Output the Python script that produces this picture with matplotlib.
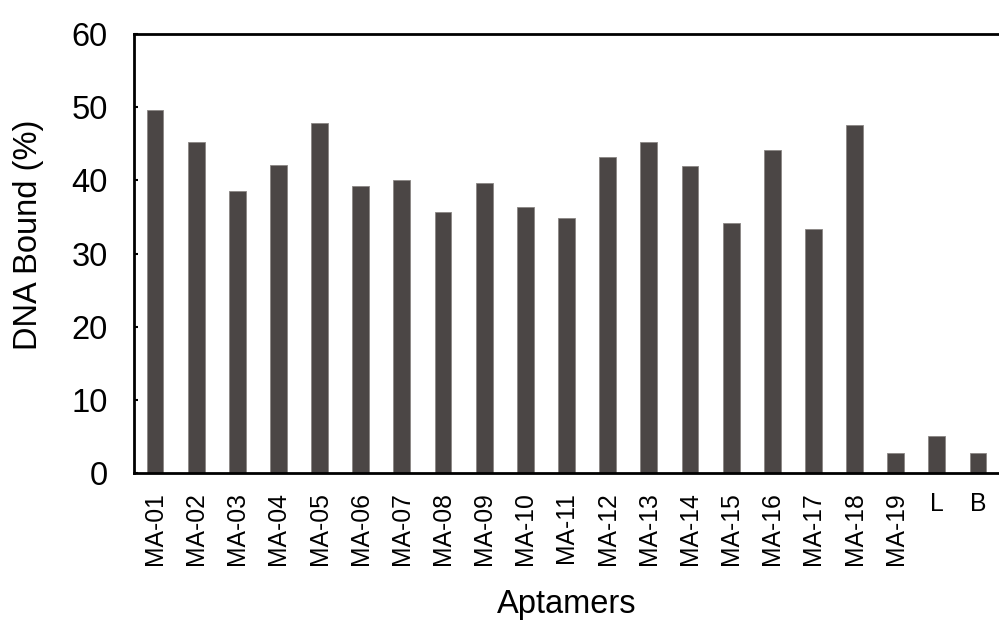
import numpy as np
import matplotlib.pyplot as plt

plt.rcParams['font.family'] = ['Liberation Sans', 'DejaVu Sans']

# aptamer names and percent DNA bound
aptamers = ['MA-01', 'MA-02', 'MA-03', 'MA-04', 'MA-05', 'MA-06', 'MA-07',
            'MA-08', 'MA-09', 'MA-10', 'MA-11', 'MA-12', 'MA-13', 'MA-14',
            'MA-15', 'MA-16', 'MA-17', 'MA-18', 'MA-19', 'L', 'B']
bound = [49.6, 45.2, 38.6, 42.1, 47.8, 39.2, 40.1,
         35.7, 39.7, 36.4, 34.8, 43.2, 45.2, 41.9,
         34.2, 44.2, 33.4, 47.5, 2.7, 5.1, 2.7]
yticks = [0, 10, 20, 30, 40, 50, 60]

fig = plt.figure(figsize=(9.99, 6.21), dpi=100)
ax = fig.add_axes([0.1341, 0.2383, 0.8659, 0.7069])

x = np.arange(len(aptamers))
ax.bar(x, bound, width=0.41, color='#4b4645', edgecolor='#8a8684', linewidth=0.6)

ax.set_xlim(-0.51, len(aptamers) - 0.49)
ax.set_ylim(0, 60)
ax.set_yticks(yticks)
ax.set_xticks(x)
ax.set_xticklabels(aptamers, rotation=90, fontsize=17.8, va='top', ha='center')
for lbl in ax.get_xticklabels():
    if not lbl.get_text().startswith('MA'):
        lbl.set_rotation(0)

ax.tick_params(axis='x', length=0, pad=14)
ax.tick_params(axis='y', direction='in', length=3, width=1.5, labelsize=23.5, pad=19)

for side in ['left', 'bottom', 'top']:
    ax.spines[side].set_linewidth(2)
    ax.spines[side].set_color('black')
ax.spines['right'].set_visible(False)

ax.set_xlabel('Aptamers', fontsize=23.5, labelpad=17)
ax.set_ylabel('DNA Bound (%)', fontsize=23.5)
ax.yaxis.set_label_coords(-0.104, 0.543)

fig.savefig('out.png', dpi=100)
